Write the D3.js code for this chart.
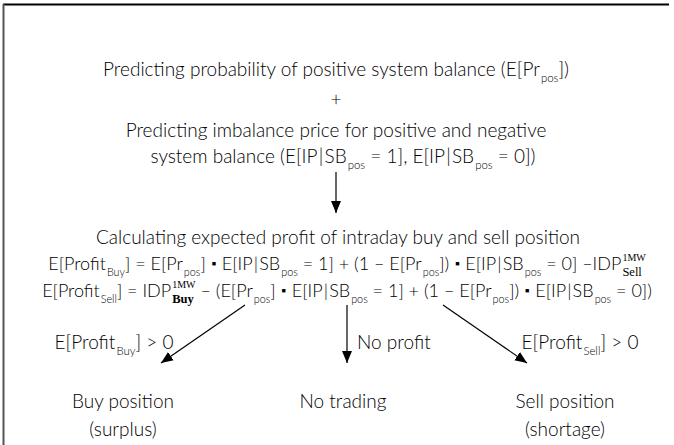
<!DOCTYPE html>
<html>
<head>
<meta charset="utf-8">
<script src="https://cdn.jsdelivr.net/npm/d3@7"></script>
<style>
  html, body { margin: 0; padding: 0; background: #fff; }
  svg text { font-family: "Lato", "Open Sans", sans-serif; font-weight: 300; fill: #000; }
</style>
</head>
<body>
<svg id="chart" width="674" height="445"></svg>
<script>
// Text content of the flow diagram (segments: t = normal, sub = subscript, sup = superscript, dot = product)
var headLine1 = [{t: "Predicting probability of positive system balance (E[Pr"}, {sub: "pos"}, {t: "])"}];
var plusLine = [{t: "+"}];
var headLine2 = [{t: "Predicting imbalance price for positive and negative"}];
var headLine3 = [{t: "system balance (E[IP\u200A|\u200ASB"}, {sub: "pos"}, {t: " = 1], E[IP\u200A|\u200ASB"}, {sub: "pos"}, {t: " = 0])"}];
var calcLine = [{t: "Calculating expected profit of intraday buy and sell position"}];
var formulaBuy = [
  {t: "E[Profit"}, {sub: "Buy"}, {t: "] = E[Pr"}, {sub: "pos"}, {t: "] "}, {dot: true},
  {t: " E[IP\u200A|\u200ASB"}, {sub: "pos"}, {t: " = 1] + (1 \u2013 E[Pr"}, {sub: "pos"}, {t: "]) "}, {dot: true},
  {t: " E[IP\u200A|\u200ASB"}, {sub: "pos"}, {t: " = 0] \u2013IDP"}, {sup: "1MW", sub: "Sell"}
];
var formulaSell = [
  {t: "E[Profit"}, {sub: "Sell"}, {t: "] = IDP"}, {sup: "1MW", sub: "Buy", bold: true},
  {t: " \u2013 (E[Pr"}, {sub: "pos"}, {t: "] "}, {dot: true},
  {t: " E[IP\u200A|\u200ASB"}, {sub: "pos"}, {t: " = 1] + (1 \u2013 E[Pr"}, {sub: "pos"}, {t: "]) "}, {dot: true},
  {t: " E[IP\u200A|\u200ASB"}, {sub: "pos"}, {t: " = 0])"}
];
var branchLabels = [
  [{t: "E[Profit"}, {sub: "Buy"}, {t: "] > 0"}],
  [{t: "No profit"}],
  [{t: "E[Profit"}, {sub: "Sell"}, {t: "] > 0"}]
];
var outcomes = [["Buy position", "(surplus)"], ["No trading"], ["Sell position", "(shortage)"]];

// Layout
var W = 674, H = 445;
var svg = d3.select("#chart");

svg.append("defs").append("marker")
  .attr("id", "head")
  .attr("viewBox", "0 0 12 12")
  .attr("refX", 12).attr("refY", 6)
  .attr("markerWidth", 12).attr("markerHeight", 12)
  .attr("markerUnits", "userSpaceOnUse")
  .attr("orient", "auto")
  .append("path").attr("d", "M0,1 L12,6 L0,11 Z").attr("fill", "#000");

// frame (top and left edges only, as in the original)
svg.append("line").attr("x1", 3).attr("x2", 669).attr("y1", 4.5).attr("y2", 4.5)
  .attr("stroke", "#000").attr("stroke-width", 2);
svg.append("line").attr("x1", 3.5).attr("x2", 3.5).attr("y1", 4).attr("y2", H)
  .attr("stroke", "#555").attr("stroke-width", 2);

// draws a line of rich text centred on cx (or starting at cx), baseline y
function richLine(segs, cx, y, size, anchor) {
  size = size || 19;
  var subSize = size * 0.6;
  var g = svg.append("g");
  var x = 0;
  segs.forEach(function (s) {
    if (s.dot) {
      var d = g.append("text").attr("x", x + 1).attr("y", -4.5)
        .style("font-size", "7px").style("font-weight", 900).text("\u25A0");
      x += d.node().getComputedTextLength() + 2;
    } else if (s.sup) {
      // stacked super/subscript (IDP with 1MW over Sell/Buy)
      var fam = "'Liberation Serif', 'DejaVu Serif', serif";
      var a = g.append("text").attr("x", x + 1).attr("y", -9).style("font-family", fam)
        .style("font-size", "10px").style("font-weight", 400).text(s.sup);
      var b = g.append("text").attr("x", x + 1).attr("y", 6).style("font-family", fam)
        .style("font-size", "12.5px").style("font-weight", s.bold ? 700 : 400).text(s.sub);
      x += Math.max(a.node().getComputedTextLength(), b.node().getComputedTextLength()) + 1;
    } else if (s.sub) {
      var c = g.append("text").attr("x", x + 1).attr("y", 6)
        .style("font-size", subSize + "px").text(s.sub);
      x += c.node().getComputedTextLength() + 1;
    } else {
      var t = g.append("text").attr("x", x).attr("y", 0)
        .style("font-size", size + "px").attr("xml:space", "preserve").text(s.t);
      x += t.node().getComputedTextLength();
    }
  });
  var left = anchor === "start" ? cx : cx - x / 2;
  g.attr("transform", "translate(" + left + "," + y + ")");
  return g;
}

richLine(headLine1, 336, 76);
richLine(plusLine, 336, 106);
richLine(headLine2, 336, 137);
richLine(headLine3, 343, 163);

function arrow(x1, y1, x2, y2) {
  svg.append("line").attr("x1", x1).attr("y1", y1).attr("x2", x2).attr("y2", y2)
    .attr("stroke", "#000").attr("stroke-width", 1.2).attr("marker-end", "url(#head)");
}
arrow(336, 172, 336, 213);

richLine(calcLine, 338, 244);
richLine(formulaBuy, 347, 270, 18);
richLine(formulaSell, 347, 297, 18);

// branches
var branchTop = 305, branchBottom = 363;
var branchX = [[245, 161], [347, 347], [443, 527]];
branchX.forEach(function (b) { arrow(b[0], branchTop, b[1], branchBottom); });

richLine(branchLabels[0], 114, 349);
richLine(branchLabels[1], 357, 349, 19, "start");
richLine(branchLabels[2], 580, 349);

var outcomeX = [123, 343, 565];
outcomes.forEach(function (o, i) {
  o.forEach(function (txt, j) {
    richLine([{t: txt}], outcomeX[i], 408 + j * 28);
  });
});
</script>
</body>
</html>
